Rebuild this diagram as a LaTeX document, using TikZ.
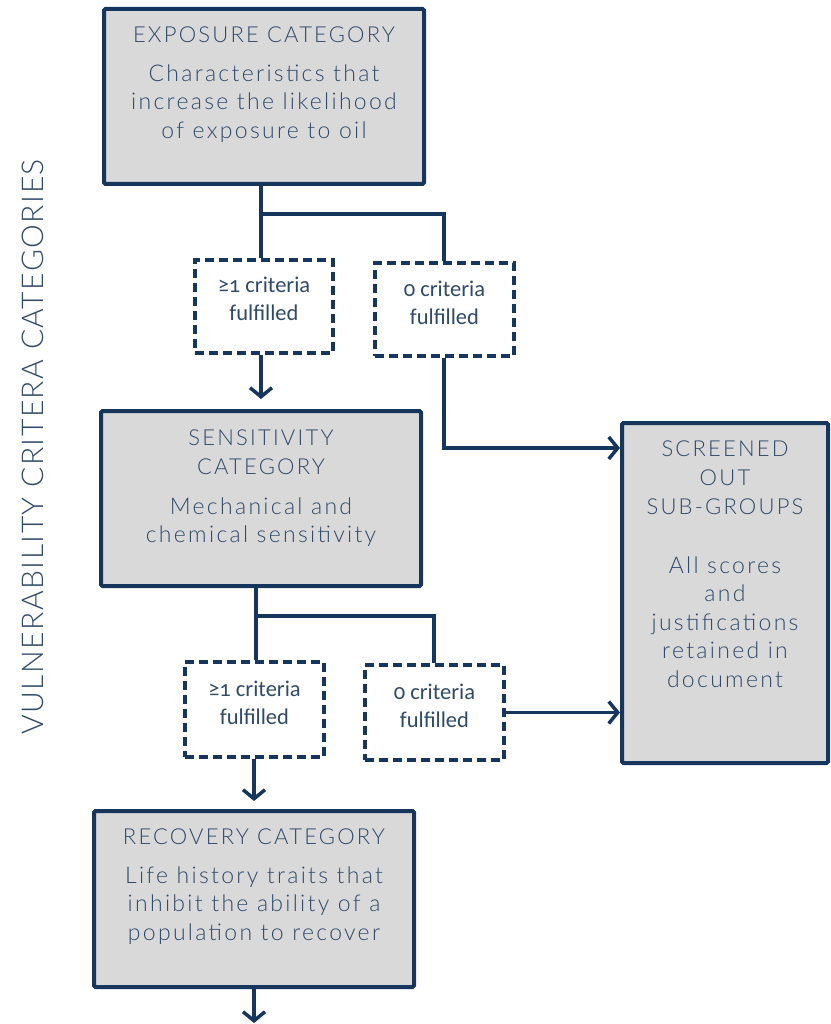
\documentclass[tikz,border=0pt]{standalone}
\usepackage{fontspec}
\setmainfont{Lato}[UprightFont=* Light, LetterSpace=10]
\newfontfamily\sidefont{Lato}[UprightFont=* Light, LetterSpace=5]
\newfontfamily\critfont{Carlito}[Numbers=OldStyle]
\usetikzlibrary{arrows.meta}
\definecolor{navy}{HTML}{17365D}
\definecolor{inktext}{HTML}{2F4A6A}
\definecolor{boxgray}{HTML}{D9D9D9}
\tikzset{
  catbox/.style={draw=navy, fill=boxgray, line width=4pt, rounded corners=1.5pt, inner sep=0pt},
  critbox/.style={draw=navy, line width=3.5pt, dash pattern=on 9pt off 5pt, inner sep=0pt},
  head/.style={text=inktext, font=\fontsize{22}{29}\selectfont, align=center},
  body/.style={text=inktext, font=\fontsize{23}{28.5}\selectfont, align=center},
  crit/.style={text=inktext, font=\critfont\fontsize{22.5}{28}\selectfont, align=center},
  link/.style={draw=navy, line width=3.5pt},
  flow/.style={link, -{Straight Barb[length=9pt, width=22pt]}},
}
\begin{document}
\begin{tikzpicture}[x=1pt, y=-1pt]
\useasboundingbox (0,0) rectangle (830,1024);

% category boxes
\node[catbox, minimum width=320pt, minimum height=175pt] (exp) at (264,96.5) {};
\node[catbox, minimum width=320pt, minimum height=175pt] (sen) at (261,498.5) {};
\node[catbox, minimum width=320pt, minimum height=176pt] (rec) at (254,899) {};
\node[catbox, minimum width=206pt, minimum height=340pt] (scr) at (725,593) {};

% texts inside category boxes
\node[head] (exph) at (264,35) {EXPOSURE CATEGORY};
\node[body] (expb) at (264,103.5) {Characteristics that\\increase the likelihood\\of exposure to oil};
\node[head] (senh) at (261,452.5) {SENSITIVITY\\CATEGORY};
\node[body] (senb) at (261,522) {Mechanical and\\chemical sensitivity};
\node[head] (rech) at (254,837) {RECOVERY CATEGORY};
\node[body] (recb) at (254,905.5) {Life history traits that\\inhibit the ability of a\\population to recover};
\node[head] (scrh) at (725,477.5) {SCREENED\\OUT\\SUB-GROUPS};
\node[body] (scrb) at (725,622) {All scores\\and\\justifications\\retained in\\document};

% criteria boxes
\node[critbox, minimum width=138pt, minimum height=93pt] (c1) at (264,306.5) {};
\node[critbox, minimum width=139pt, minimum height=93pt] (c2) at (444.5,309.5) {};
\node[critbox, minimum width=139pt, minimum height=95pt] (c3) at (254.5,709.5) {};
\node[critbox, minimum width=139pt, minimum height=95pt] (c4) at (434.5,712.5) {};
\node[crit] (c1t) at (264,299) {≥1 criteria\\fulfilled};
\node[crit] (c2t) at (444.5,303) {0 criteria\\fulfilled};
\node[crit] (c3t) at (254.5,703) {≥1 criteria\\fulfilled};
\node[crit] (c4t) at (434.5,706) {0 criteria\\fulfilled};

% branching points
\coordinate (e1) at (261,214);
\coordinate (e2) at (444,214);
\coordinate (s1) at (256,616);
\coordinate (s2) at (434,616);
\coordinate (c2turn) at (444,448);
\coordinate (out) at (254,1023);

% connectors
\draw[link] (exp.south -| e1) -- (e1) -- (e2) -- (c2.north -| e2);
\draw[link] (e1) -- (c1.north -| e1);
\draw[flow] (c1.south -| e1) -- ([yshift=10pt]sen.north -| e1);
\draw[flow] (c2.south -| c2turn) -- (c2turn) -- (c2turn -| scr.west);
\draw[link] (sen.south -| s1) -- (s1) -- (s2) -- (c4.north -| s2);
\draw[link] (s1) -- (c3.north -| s1);
\draw[flow] (c3.south -| out) -- ([yshift=8pt]rec.north -| out);
\draw[flow] (c4.east) -- (c4.east -| scr.west);
\draw[flow] (rec.south -| out) -- (out);

% side label
\node[text=inktext, rotate=90, font=\sidefont\fontsize{30}{34}\selectfont] (side) at (33,447) {VULNERABILITY CRITERA CATEGORIES};
\end{tikzpicture}
\end{document}
